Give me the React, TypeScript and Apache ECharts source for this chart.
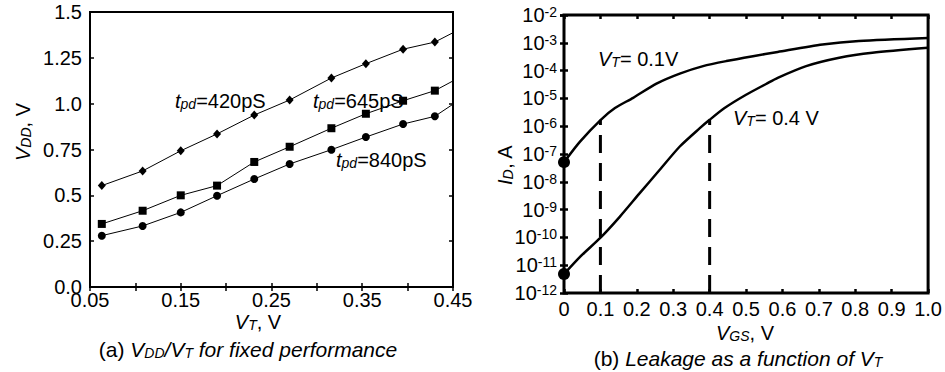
import React, { useEffect, useRef } from "react";
import * as echarts from "echarts";

// ---------- (a) VDD vs VT for fixed performance ----------
const vtValues = [0.063, 0.108, 0.15, 0.19, 0.231, 0.27, 0.316, 0.354, 0.395, 0.43, 0.45];
const vdd420 = [0.553, 0.633, 0.743, 0.835, 0.938, 1.02, 1.14, 1.218, 1.297, 1.336, 1.387];
const vdd645 = [0.344, 0.416, 0.5, 0.553, 0.682, 0.765, 0.866, 0.945, 1.016, 1.071, 1.124];
const vdd840 = [0.28, 0.333, 0.407, 0.498, 0.589, 0.671, 0.749, 0.818, 0.889, 0.931, 0.997];
const seriesNamesA = ["420pS", "645pS", "840pS"];
const xTicksA = [0.05, 0.15, 0.25, 0.35, 0.45];
const yTicksA = ["0.0", "0.25", "0.5", "0.75", "1.0", "1.25", "1.5"];

// ---------- (b) Leakage as a function of VT ----------
const vgs01 = [0, 0.044, 0.101, 0.14, 0.19, 0.254, 0.318, 0.382, 0.446, 0.519, 0.587, 0.71, 0.81, 1.0];
const id01 = [5.1e-8, 2.8e-7, 1.7e-6, 4.5e-6, 1.05e-5, 3.4e-5, 7.8e-5, 1.45e-4, 2.2e-4, 3.3e-4, 4.7e-4, 8.7e-4, 1.17e-3, 1.5e-3];
const vgs04 = [0, 0.044, 0.101, 0.153, 0.208, 0.263, 0.318, 0.373, 0.4, 0.441, 0.5, 0.555, 0.587, 0.665, 0.756, 0.847, 1.0];
const id04 = [4.8e-12, 2.0e-11, 1.0e-10, 5.5e-10, 3.9e-9, 2.7e-8, 1.86e-7, 8.5e-7, 1.7e-6, 4.5e-6, 1.35e-5, 3.3e-5, 5.5e-5, 1.45e-4, 2.9e-4, 4.4e-4, 6.6e-4];
const vtMarks = [0.1, 0.4];
const dashTop = [1.7e-6, 1.7e-6];
const idMin = 1e-12;
const idMax = 1e-2;

const F = "'Liberation Sans', Arial, Helvetica, sans-serif";
const FS = 20;

const richG = (fs: number) => ({
  n: { fontSize: fs, fontFamily: F, fill: "#000", lineHeight: fs, verticalAlign: "top" },
  i: { fontSize: fs, fontFamily: F, fill: "#000", fontStyle: "italic", lineHeight: fs, verticalAlign: "top" },
  s: { fontSize: 14, fontFamily: F, fill: "#000", fontStyle: "italic", lineHeight: 14, padding: [8, 0, 0, 0], verticalAlign: "bottom" },
});

function txt(text: string, x: number, y: number, align = "left", rotation = 0, fs = FS) {
  return {
    type: "text",
    x,
    y,
    rotation,
    style: {
      text,
      rich: richG(fs),
      fill: "#000",
      font: `${fs}px ${F}`,
      align,
      verticalAlign: "middle",
    },
    z: 100,
  };
}

export default function App() {
  const ref = useRef<HTMLDivElement>(null);
  useEffect(() => {
    document.body.style.margin = "0";
    const chart = echarts.init(ref.current!, null, { renderer: "svg" });

    const tickStyle = (w: number) => ({ show: true, inside: true, length: 4, lineStyle: { color: "#000", width: w } });
    const labelA = { color: "#000", fontSize: FS, fontFamily: F };

    const mk = (xs: number[], ys: number[]) =>
      xs.map((x, i) => (i === xs.length - 1 ? { value: [x, ys[i]], symbol: "none" } : [x, ys[i]]));

    const option: any = {
      animation: false,
      backgroundColor: "#fff",
      grid: [
        { left: 90, top: 12, width: 363, height: 275, show: true, borderColor: "#000", borderWidth: 2, backgroundColor: "transparent" },
        { left: 564, top: 15, width: 365, height: 278, show: true, borderColor: "#000", borderWidth: 3, backgroundColor: "transparent" },
      ],
      xAxis: [
        {
          gridIndex: 0, type: "value", min: 0.05, max: 0.45, interval: 0.05, position: "bottom",
          axisLine: { show: false }, axisTick: tickStyle(1.5), splitLine: { show: false },
          axisLabel: {
            ...labelA, margin: 3,
            formatter: (v: number) => {
              const hit = xTicksA.find((t) => Math.abs(t - v) < 1e-6);
              return hit !== undefined ? hit.toFixed(2) : "";
            },
          },
        },
        {
          gridIndex: 0, type: "value", min: 0.05, max: 0.45, interval: 0.05, position: "top",
          axisLine: { show: false }, axisTick: tickStyle(1.5), splitLine: { show: false }, axisLabel: { show: false },
        },
        {
          gridIndex: 1, type: "value", min: 0, max: 1, interval: 0.1, position: "bottom",
          axisLine: { show: false }, axisTick: tickStyle(2.5), splitLine: { show: false },
          axisLabel: {
            ...labelA, margin: 6,
            formatter: (v: number) => (v === 0 ? "0" : v.toFixed(1)),
          },
        },
        {
          gridIndex: 1, type: "value", min: 0, max: 1, interval: 0.1, position: "top",
          axisLine: { show: false }, axisTick: tickStyle(2.5), splitLine: { show: false }, axisLabel: { show: false },
        },
      ],
      yAxis: [
        {
          gridIndex: 0, type: "value", min: 0, max: 1.5, interval: 0.25, position: "left",
          axisLine: { show: false }, axisTick: tickStyle(1.5), splitLine: { show: false },
          axisLabel: {
            ...labelA, margin: 8,
            formatter: (v: number) => yTicksA[Math.round(v / 0.25)] ?? "",
          },
        },
        {
          gridIndex: 0, type: "value", min: 0, max: 1.5, interval: 0.25, position: "right",
          axisLine: { show: false }, axisTick: tickStyle(1.5), splitLine: { show: false }, axisLabel: { show: false },
        },
        {
          gridIndex: 1, type: "log", logBase: 10, min: idMin, max: idMax, splitNumber: 10, position: "left",
          axisLine: { show: false }, axisTick: tickStyle(2.5), splitLine: { show: false },
          axisLabel: {
            color: "#000", margin: 7,
            formatter: (v: number) => `{m|10}{s|${Math.round(Math.log10(v))}}`,
            rich: {
              m: { fontSize: FS, fontFamily: F, color: "#000", lineHeight: 20, padding: [4, 0, 0, 0], verticalAlign: "bottom" },
              s: { fontSize: 14, fontFamily: F, color: "#000", lineHeight: 14, verticalAlign: "top" },
            },
          },
        },
        {
          gridIndex: 1, type: "log", logBase: 10, min: idMin, max: idMax, splitNumber: 10, position: "right",
          axisLine: { show: false }, axisTick: tickStyle(2.5), splitLine: { show: false }, axisLabel: { show: false },
        },
      ],
      series: [
        {
          name: seriesNamesA[0], type: "line", xAxisIndex: 0, yAxisIndex: 0, data: mk(vtValues, vdd420),
          symbol: "diamond", symbolSize: [8, 9], lineStyle: { color: "#000", width: 1 }, itemStyle: { color: "#000" },
        },
        {
          name: seriesNamesA[1], type: "line", xAxisIndex: 0, yAxisIndex: 0, data: mk(vtValues, vdd645),
          symbol: "rect", symbolSize: 8, lineStyle: { color: "#000", width: 1 }, itemStyle: { color: "#000" },
        },
        {
          name: seriesNamesA[2], type: "line", xAxisIndex: 0, yAxisIndex: 0, data: mk(vtValues, vdd840),
          symbol: "circle", symbolSize: 8, lineStyle: { color: "#000", width: 1 }, itemStyle: { color: "#000" },
        },
        {
          name: "VT=0.1V", type: "line", xAxisIndex: 2, yAxisIndex: 2, data: vgs01.map((x, i) => [x, id01[i]]),
          symbol: "none", smooth: 0.25, lineStyle: { color: "#000", width: 2.5 },
        },
        {
          name: "VT=0.4V", type: "line", xAxisIndex: 2, yAxisIndex: 2, data: vgs04.map((x, i) => [x, id04[i]]),
          symbol: "none", smooth: 0.25, lineStyle: { color: "#000", width: 2.5 },
        },
        ...vtMarks.map((vt, k) => ({
          name: `dash${k}`, type: "line", xAxisIndex: 2, yAxisIndex: 2,
          data: [[vt, idMin], [vt, dashTop[k]]],
          symbol: "none", lineStyle: { color: "#000", width: 3, type: [18, 10] },
        })),
        {
          name: "start", type: "scatter", xAxisIndex: 2, yAxisIndex: 2, clip: false,
          data: [[vgs01[0], id01[0]], [vgs04[0], id04[0]]],
          symbol: "circle", symbolSize: 12, itemStyle: { color: "#000", opacity: 1 }, z: 5,
        },
      ],
      graphic: [
        txt("{i|t}{s|pd}{n|=420pS}", 175, 101),
        txt("{i|t}{s|pd}{n|=645pS}", 313, 101),
        txt("{i|t}{s|pd}{n|=840pS}", 336, 160),
        txt("{i|V}{s|T}{n|= 0.1V}", 598, 59),
        txt("{i|V}{s|T}{n|= 0.4 V}", 733, 118),
        txt("{i|V}{s|T}{n|, V}", 258, 322, "center"),
        txt("{i|V}{s|GS}{n|, V}", 745, 333, "center"),
        txt("{i|V}{s|DD}{n|, V}", 23, 132, "center", Math.PI / 2),
        txt("{i|I}{s|D}{n|, A}", 505, 165, "center", Math.PI / 2),
        txt("{n|(a) }{i|V}{s|DD}{i|/V}{s|T}{i| for fixed performance}", 248, 349, "center", 0, 21),
        txt("{n|(b) }{i|Leakage as a function of V}{s|T}", 738, 358, "center", 0, 21),
      ],
    };
    chart.setOption(option);
    return () => chart.dispose();
  }, []);
  return <div ref={ref} style={{ width: 945, height: 372 }} />;
}
